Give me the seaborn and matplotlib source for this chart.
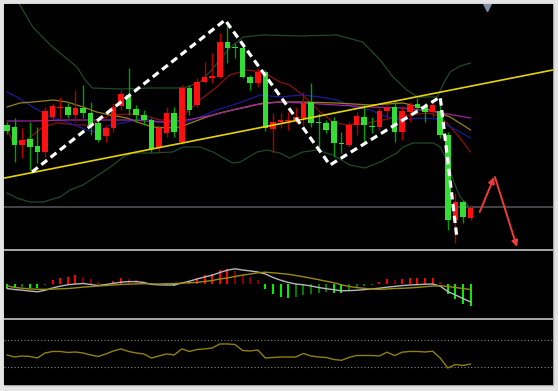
import numpy as np
import pandas as pd
import seaborn as sns
import matplotlib.pyplot as plt
from matplotlib.patches import Rectangle

# candles (price units)
opens = [125, 123, 105, 111, 104, 98, 133, 142, 143, 135, 142, 137, 127, 114, 122, 144,
         155, 141, 135, 130, 102, 117, 137, 108, 162, 145, 168, 172, 173, 208, 203, 202,
         173, 167, 178, 121, 128, 129, 130, 132, 148, 128, 127, 129, 107, 105, 125, 133,
         124, 123, 139, 143, 118, 138, 146, 143, 138, 139, 115, 30, 48, 32]
highs = [128, 132, 122, 128, 123, 143, 147, 153, 147, 160, 165, 148, 132, 125, 147, 160,
         182, 145, 140, 132, 125, 143, 143, 165, 165, 172, 188, 197, 217, 225, 207, 205,
         175, 182, 180, 137, 137, 138, 143, 158, 167, 137, 130, 133, 118, 128, 138, 145,
         133, 142, 147, 150, 144, 148, 152, 147, 148, 145, 118, 57, 50, 45]
lows = [116, 88, 92, 80, 87, 93, 130, 132, 132, 128, 132, 115, 108, 108, 118, 140,
        135, 128, 125, 98, 97, 113, 113, 106, 135, 143, 167, 167, 172, 187, 192, 172,
        160, 163, 119, 97, 122, 120, 127, 125, 123, 103, 117, 93, 97, 103, 115, 108,
        117, 120, 133, 108, 110, 128, 137, 128, 133, 112, 20, 7, 27, 30]
closes = [119, 105, 110, 103, 98, 139, 144, 143, 135, 142, 137, 125, 110, 122, 143, 156,
          141, 135, 130, 101, 122, 137, 118, 162, 140, 168, 173, 174, 208, 202, 202, 173,
          167, 178, 122, 128, 130, 130, 133, 147, 127, 127, 120, 107, 106, 125, 134, 125,
          123, 139, 142, 118, 139, 145, 142, 138, 145, 115, 30, 48, 33, 42]

# bollinger bands and moving averages: (bar index, price)
upper_x = [0, 1.7, 3.4, 5.7, 9.2, 10.3, 11.2, 14.9, 18.8, 22.4, 23.7, 25.4, 26.7, 28.0, 29.3,
           31.1, 33.7, 38.6, 43.4, 46.8, 49.1, 50.8, 52.6, 54.1, 56.6, 57.4, 58.3, 59.6, 61.0]
upper_p = [265, 245, 223, 205, 183, 170, 162, 161, 162, 162, 163, 168, 178, 190, 202,
           213, 215, 214, 215, 208, 190, 173, 160, 153, 153, 166, 178, 184, 187]
lower_x = [0, 1.3, 3.0, 4.7, 7.0, 8.3, 10.0, 11.6, 13.6, 15.3, 16.6, 19.2, 21.8, 23.2, 25.4,
           27.1, 29.7, 30.7, 32.9, 34.2, 35.9, 37.2, 38.9, 40.8, 42.9, 45.1, 47.1, 49.1, 51.3,
           52.1, 53.4, 56.1, 57.0, 57.9, 58.7, 59.6, 61.0]
lower_p = [57, 52, 48, 48, 53, 60, 65, 73, 83, 93, 97, 97, 98, 103, 103,
           98, 87, 88, 98, 100, 97, 92, 98, 100, 95, 85, 82, 88, 97,
           103, 107, 107, 103, 90, 70, 53, 42]
ma_red_x = [0, 0.8, 2.6, 4.7, 6.6, 9.2, 10.9, 13.6, 16.2, 18.8, 20.1, 22.1, 23.7, 25.4, 27.6,
            29.3, 31.6, 33.7, 35.9, 37.2, 38.9, 41.2, 42.9, 44.7, 47.4, 50.8, 53.0, 55.3, 56.6,
            57.9, 59.6, 61.0]
ma_red_p = [122, 107, 110, 123, 127, 125, 125, 135, 136, 133, 130, 130, 138, 150, 163,
            175, 180, 178, 168, 165, 155, 138, 128, 125, 127, 132, 135, 137, 135,
            127, 112, 98]
ma_blue_x = [0, 1.3, 3.4, 5.7, 7.9, 10.5, 11.8, 13.6, 15.3, 17.9, 20.1, 21.8, 23.7, 25.4, 27.6,
             29.7, 31.6, 33.3, 35.9, 38.9, 41.2, 43.4, 45.5, 47.8, 50.0, 52.1, 54.3, 56.6, 57.9,
             59.6, 61.0]
ma_blue_p = [158, 153, 143, 133, 128, 120, 118, 125, 127, 132, 128, 127, 128, 133, 140,
             145, 150, 155, 153, 155, 153, 150, 143, 140, 133, 130, 132, 131, 125,
             118, 112]
ma_olive_x = [0, 1.7, 3.4, 6.1, 7.9, 10.0, 11.8, 13.6, 15.8, 17.5, 19.2, 21.1, 22.8, 24.5,
              26.3, 28.0, 29.7, 31.6, 33.7, 35.9, 38.9, 43.4, 47.8, 52.1, 54.3, 56.6, 58.3, 61.0]
ma_olive_p = [143, 147, 148, 150, 148, 143, 138, 135, 132, 127, 123, 122, 123, 128,
              133, 137, 140, 143, 147, 148, 148, 147, 145, 147, 143, 138, 133, 120]
ma_purple_x = [0, 3.4, 7.9, 12.2, 16.6, 20.1, 23.7, 27.1, 29.7, 32.4, 35.9, 38.9, 43.4, 47.8,
               52.1, 56.6, 58.7, 61.0]
ma_purple_p = [129, 129, 130, 130, 130, 128, 130, 135, 140, 145, 148, 147, 145, 143,
               142, 138, 135, 132]

# drawings on the price chart
trend_x = [-0.3, 71.8]
trend_p = [72, 180]
zigzag_x = [3.3, 28.7, 42.5, 57.0, 59.2]
zigzag_p = [78, 230, 85, 153, 12]
arrow_up = [(62.2, 38), (64.1, 73)]
arrow_down = [(64.2, 73), (67.1, 3)]
level_p = 43

# MACD panel
macd_hist = [-4, -4, -3, -4, -4, -1, 4, 6, 7, 9, 7.5, 5, 2.5, 0.5, 3, 6,
             5, 4, 2, -1, -1, -0.5, -2, 2, 2, 6, 9, 10, 14, 15, 13, 10,
             7, 4, -5, -10, -13, -14, -13, -11, -10, -9, -8, -9, -9, -6, -4, -2,
             -1, 2, 5, 4, 5, 6, 6, 6, 6, 2, -10, -15, -20, -22]
macd_line = [-4.5, -5.5, -6.2, -7, -7.8, -6.3, -4, -2.2, -0.8, 0, 0.5, -0.5, -1.5, -0.5, 0.6, 1.8,
             2.4, 2.4, 1.5, -0.4, -0.8, -1, -1, 0.9, 2.8, 5, 7, 8.8, 11.5, 13.8, 15.2, 14,
             13.1, 12, 10, 6.5, 3.8, 1.6, 0, -0.8, -2, -3.5, -4.7, -5.7, -6.8, -6.6, -6.3, -5.6,
             -4.9, -4.2, -3.2, -2.4, -1.6, -1, -0.6, -0.3, 0, -2.2, -7.5, -11, -14.5, -18]
macd_signal = [-1.7, -3.5, -4.2, -4.9, -5.3, -5.3, -5.1, -4.8, -4.5, -3.9, -3.1, -2.6, -2, -1.5, -1, -0.5,
               -0.2, 0.1, 0.3, 0.1, 0, 0.3, 0.5, 0.9, 1.3, 1.6, 2.5, 3.5, 5, 6, 7.5, 8.8,
               10, 11.2, 11.8, 11.2, 10.5, 9.8, 8.5, 7.2, 5.8, 4.3, 2.8, 1.3, -0.8, -2.5, -3.6, -4.3,
               -5, -5.4, -5, -4.5, -4.3, -3.9, -3.4, -2.7, -2, -1.7, -2.5, -3.5, -4.5, -5.5]

# RSI panel
rsi = [47.8, 44.8, 46.3, 45.6, 43.3, 50.7, 53.0, 53.0, 51.5, 52.2, 50.7, 47.8, 45.6, 49.3, 53.7, 56.7,
       53.0, 50.7, 49.3, 43.3, 46.3, 49.3, 47.8, 56.7, 53.0, 55.9, 56.7, 58.1, 64.1, 64.1, 63.3, 54.4,
       53.7, 55.2, 43.3, 44.1, 44.8, 44.8, 44.8, 50.0, 46.3, 44.8, 44.1, 41.1, 39.9, 44.1, 47.0, 47.0,
       47.0, 46.3, 51.9, 47.0, 51.9, 53.0, 53.0, 52.2, 53.4, 43.3, 28.5, 33.7, 32.2, 34.4]
rsi_levels = [70, 30]

sns.set_theme(style="dark", rc={"axes.facecolor": "black"})

W, H = 558, 391
fig = plt.figure(figsize=(W / 100, H / 100), dpi=100, facecolor="#e4e4e4")


def box(top, bottom):
    return [4 / W, (H - bottom) / H, 549 / W, (bottom - top) / H]


# grey separators between panels
fig.patches.append(Rectangle((4 / W, 6 / H), 549 / W, 381 / H, transform=fig.transFigure,
                             color="#a4a4a4", zorder=-1))

ax = fig.add_axes(box(4, 249))
ax_macd = fig.add_axes(box(251, 318))
ax_rsi = fig.add_axes(box(320, 385))

df = pd.DataFrame({"open": opens, "high": highs, "low": lows, "close": closes})
df["idx"] = np.arange(len(df))
df["up"] = df["close"] > df["open"]

xlim = (-0.39, 71.84)

# price panel
ax.axhline(level_p, color="#55555c", lw=1.1, zorder=1)
for name, xs, ps, col in [("upper", upper_x, upper_p, "#1f4a2c"),
                          ("lower", lower_x, lower_p, "#1f4a2c"),
                          ("ma_red", ma_red_x, ma_red_p, "#8c0f0f"),
                          ("ma_blue", ma_blue_x, ma_blue_p, "#1a1a9c"),
                          ("ma_olive", ma_olive_x, ma_olive_p, "#978417"),
                          ("ma_purple", ma_purple_x, ma_purple_p, "#a024a0")]:
    sns.lineplot(x=xs, y=ps, ax=ax, color=col, lw=0.9, sort=False, estimator=None, zorder=2)

wick_col = np.where(df["up"], "#b00000", "#00a000")
body_col = np.where(df["up"], "#ff1010", "#33dd33")
ax.vlines(df["idx"], df["low"], df["high"], colors=wick_col, lw=1.0, zorder=3)
body_h = np.maximum((df["close"] - df["open"]).abs(), 1.2)
ax.bar(df["idx"], body_h, bottom=np.minimum(df["open"], df["close"]), width=0.72,
       color=body_col, edgecolor="none", zorder=4)

ax.plot(trend_x, trend_p, color="#e6d400", lw=1.2, zorder=5)
ax.plot(zigzag_x, zigzag_p, color="white", lw=2.3, ls=(0, (2.3, 1.4)), zorder=6)
for (x0, y0), (x1, y1) in [arrow_up, arrow_down]:
    ax.annotate("", xy=(x1, y1), xytext=(x0, y0),
                arrowprops=dict(arrowstyle="-|>", color="#ee3b3b", lw=1.4,
                                mutation_scale=9, shrinkA=0, shrinkB=0), zorder=6)
ax.plot([63.2], [243], marker="v", color="#8090a4", markersize=6, zorder=6)
ax.set_ylim(1, 246)

# MACD panel
hist = np.array(macd_hist)
prev = np.concatenate([[hist[0]], hist[:-1]])
growing = np.abs(hist) >= np.abs(prev)
hist_col = np.where(hist >= 0, np.where(growing, "#ff0000", "#8a0000"),
                    np.where(growing, "#00ee00", "#007a00"))
ax_macd.bar(df["idx"], hist, width=0.28, color=hist_col, edgecolor="none", zorder=2)
sns.lineplot(x=df["idx"], y=macd_line, ax=ax_macd, color="#b8b8b8", lw=1.0, zorder=3)
sns.lineplot(x=df["idx"], y=macd_signal, ax=ax_macd, color="#9a8a10", lw=1.0, zorder=3)
ax_macd.set_ylim(-34, 33)

# RSI panel
for lv in rsi_levels:
    ax_rsi.axhline(lv, color="#8a8a8a", lw=0.8, ls=(0, (1, 2)))
sns.lineplot(x=df["idx"], y=rsi, ax=ax_rsi, color="#8f8010", lw=1.0)
ax_rsi.set_ylim(3.3, 99.6)

for a in (ax, ax_macd, ax_rsi):
    a.set_xlim(*xlim)
    a.set_xticks([])
    a.set_yticks([])
    a.set_xlabel("")
    a.set_ylabel("")
    for s in a.spines.values():
        s.set_visible(False)

fig.savefig("out.png", dpi=100, facecolor=fig.get_facecolor())
